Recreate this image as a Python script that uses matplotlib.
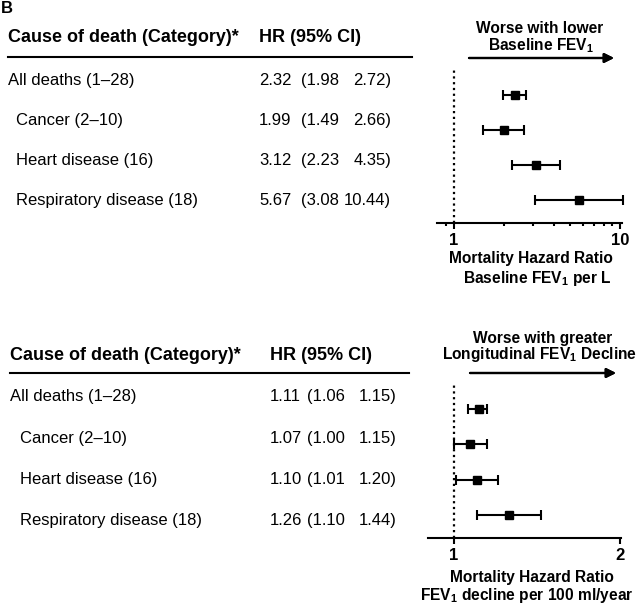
import matplotlib
matplotlib.use("Agg")
import matplotlib.pyplot as plt
from matplotlib.lines import Line2D
from matplotlib.ticker import FixedLocator, NullFormatter

plt.rcParams["font.family"] = ["Liberation Sans", "DejaVu Sans"]
plt.rcParams["mathtext.fontset"] = "custom"
plt.rcParams["mathtext.rm"] = "Liberation Sans"
plt.rcParams["mathtext.bf"] = "Liberation Sans:bold"

# data
causes = ["All deaths (1\u201328)", "Cancer (2\u201310)", "Heart disease (16)",
          "Respiratory disease (18)"]
indented = [False, True, True, True]

hr_base = [2.32, 1.99, 3.12, 5.67]
lo_base = [1.98, 1.49, 2.23, 3.08]
hi_base = [2.72, 2.66, 4.35, 10.44]

hr_decl = [1.11, 1.07, 1.10, 1.26]
lo_decl = [1.06, 1.00, 1.01, 1.10]
hi_decl = [1.15, 1.15, 1.20, 1.44]

W, H = 640, 606


def fx(x):
    return x / W


def fy(y):
    return 1 - y / H


def label(fig, x, y, s):
    fig.text(fx(x), fy(y), s, fontsize=11.2, fontweight="bold", ha="center",
             va="baseline")


def arrow(fig, x0, x1, y):
    fig.add_artist(plt.annotate("", xy=(fx(x1), fy(y)), xytext=(fx(x0), fy(y)),
                                xycoords="figure fraction",
                                arrowprops=dict(arrowstyle="-|>", lw=1.6, color="black",
                                                mutation_scale=14, shrinkA=0, shrinkB=0),
                                annotation_clip=False))


def table(fig, base, left, indent, hr_x, lo_right, hi_right, line_y, line_right,
          rows, hr, lo, hi):
    fig.text(fx(left), fy(base), "Cause of death (Category)*", fontsize=13,
             fontweight="bold", va="baseline")
    fig.text(fx(hr_x), fy(base), "HR (95% CI)", fontsize=13,
             fontweight="bold", va="baseline")
    fig.add_artist(Line2D([fx(left), fx(line_right)], [fy(line_y), fy(line_y)],
                          color="black", lw=1.5))
    for i, y in enumerate(rows):
        x = left + indent if indented[i] else left
        fig.text(fx(x), fy(y), causes[i], fontsize=12, va="baseline")
        fig.text(fx(hr_x), fy(y), f"{hr[i]:.2f}", fontsize=12, va="baseline")
        fig.text(fx(lo_right), fy(y), f"({lo[i]:.2f}", fontsize=12,
                 va="baseline", ha="right")
        fig.text(fx(hi_right), fy(y), f"{hi[i]:.2f})", fontsize=12,
                 va="baseline", ha="right")


def forest(fig, box, rows_px, xlim, hr, lo, hi):
    left, right, top, bottom = box
    ax = fig.add_axes([fx(left), fy(bottom), (right - left) / W, (bottom - top) / H])
    step = (rows_px[-1] - rows_px[0]) / (len(rows_px) - 1)
    ax.set_ylim((bottom - rows_px[0]) / step, (top - rows_px[0]) / step)
    ax.set_xscale("log")
    ax.set_xlim(*xlim)
    ax.patch.set_alpha(0)
    for s in ("top", "right", "left"):
        ax.spines[s].set_visible(False)
    ax.spines["bottom"].set_linewidth(1.5)
    ax.set_yticks([])
    ax.axvline(1, color="black", lw=1.6, linestyle=(0, (1, 1.6)))
    ypos = list(range(len(hr)))
    err = [[h - l for h, l in zip(hr, lo)], [u - h for h, u in zip(hr, hi)]]
    ax.errorbar(hr, ypos, xerr=err, fmt="s", color="black", ms=6,
                elinewidth=1.5, capsize=3.5, capthick=1.5, clip_on=False)
    ax.tick_params(axis="x", which="major", length=4, width=1.5, labelsize=12,
                   pad=3)
    ax.tick_params(axis="x", which="minor", length=2.5, width=1.5)
    return ax


fig = plt.figure(figsize=(6.4, 6.06), dpi=100)

fig.text(fx(1), fy(1), "B", fontsize=12, fontweight="bold", va="top")

# top panel: baseline FEV1
table(fig, 42, 8, 8, 259, 339, 391, 57, 412, [85, 125, 165, 205],
      hr_base, lo_base, hi_base)
ax1 = forest(fig, (437, 622, 70, 223), [95, 130, 165, 200], (0.79, 10.3),
             hr_base, lo_base, hi_base)
ax1.xaxis.set_major_locator(FixedLocator([1, 10]))
ax1.xaxis.set_minor_locator(FixedLocator([0.9, 2, 3, 4, 5, 6, 7, 8, 9]))
ax1.xaxis.set_minor_formatter(NullFormatter())
ax1.set_xticklabels(["1", "10"], fontweight="bold")

label(fig, 540, 33, "Worse with lower")
label(fig, 541, 50, r"Baseline FEV$_\mathbf{1}$")
label(fig, 531, 263, "Mortality Hazard Ratio")
label(fig, 537, 283, r"Baseline FEV$_\mathbf{1}$ per L")
arrow(fig, 469, 614, 58)

# bottom panel: longitudinal FEV1 decline
table(fig, 360, 10, 10, 270, 345, 397, 373, 409, [401, 443, 484, 525],
      hr_decl, lo_decl, hi_decl)
ax2 = forest(fig, (428, 621, 385, 538), [409, 445, 481, 515], (0.897, 2.01),
             hr_decl, lo_decl, hi_decl)
ax2.xaxis.set_major_locator(FixedLocator([1, 2]))
ax2.xaxis.set_minor_locator(FixedLocator([]))
ax2.set_xticklabels(["1", "2"], fontweight="bold")

label(fig, 543, 343, "Worse with greater")
label(fig, 540, 359, r"Longitudinal FEV$_\mathbf{1}$ Decline")
label(fig, 532, 582, "Mortality Hazard Ratio")
label(fig, 527, 600, r"FEV$_\mathbf{1}$ decline per 100 ml/year")
arrow(fig, 470, 616, 373)

fig.savefig("out.png", dpi=100)
